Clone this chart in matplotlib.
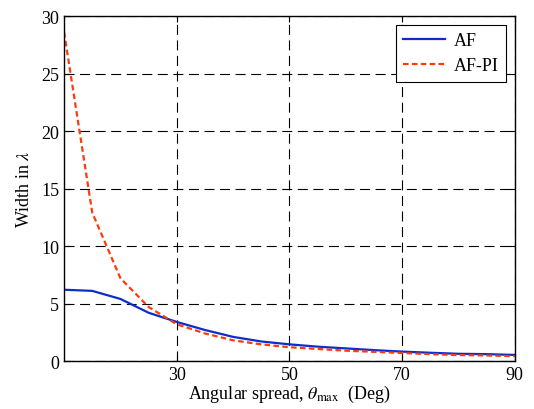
import numpy as np
import matplotlib
matplotlib.use('Agg')
import matplotlib.pyplot as plt

plt.rcParams['font.family'] = ['Liberation Serif', 'DejaVu Serif']
plt.rcParams['mathtext.fontset'] = 'stix'

# 角度扩展 (Deg)
theta = [10, 15, 20, 25, 30, 35, 40, 45, 50, 55, 60, 65, 70, 75, 80, 85, 90]
# 宽度 (lambda)
width_af = [6.2, 6.1, 5.4, 4.2, 3.4, 2.7, 2.1, 1.7, 1.45, 1.25, 1.1, 0.95, 0.82, 0.72, 0.63, 0.6, 0.53]
width_afpi = [28.6, 12.9, 7.2, 4.7, 3.2, 2.4, 1.8, 1.45, 1.2, 1.05, 0.9, 0.8, 0.7, 0.6, 0.52, 0.48, 0.42]
xtick_vals = [30, 50, 70, 90]
ytick_vals = [0, 5, 10, 15, 20, 25, 30]

fig = plt.figure(figsize=(5.34, 4.10), dpi=100)
ax = fig.add_axes([0.12, 0.117, 0.844, 0.8415])

ax.plot(theta, width_af, '-', color='#0A2ECC', linewidth=1.6, label='AF')
ax.plot(theta, width_afpi, '--', color='#FF3A0A', linewidth=1.6, label='AF-PI', dashes=(2.5, 1.5))

ax.set_xlim(10, 90)
ax.set_ylim(0, 30)
ax.set_xticks(xtick_vals)
ax.set_yticks(ytick_vals)
ax.tick_params(direction='in', labelsize=13, length=4, top=True, right=True)
ax.grid(True, color='black', linestyle=(0, (9, 5)), linewidth=0.8)
for s in ax.spines.values():
    s.set_linewidth(1.0)

ax.set_xlabel(r'Angular spread, $\theta_{\rm max}$  (Deg)', fontsize=13, labelpad=0)
ax.set_ylabel(r'Width in $\lambda$', fontsize=13, labelpad=6)

leg = ax.legend(loc='upper right', fontsize=13, fancybox=False, framealpha=1,
                edgecolor='black', handlelength=2.3, borderaxespad=0.5,
                borderpad=0.4, labelspacing=0.45, handletextpad=0.5)
leg.get_frame().set_linewidth(0.8)

plt.savefig('out.png', dpi=100)
